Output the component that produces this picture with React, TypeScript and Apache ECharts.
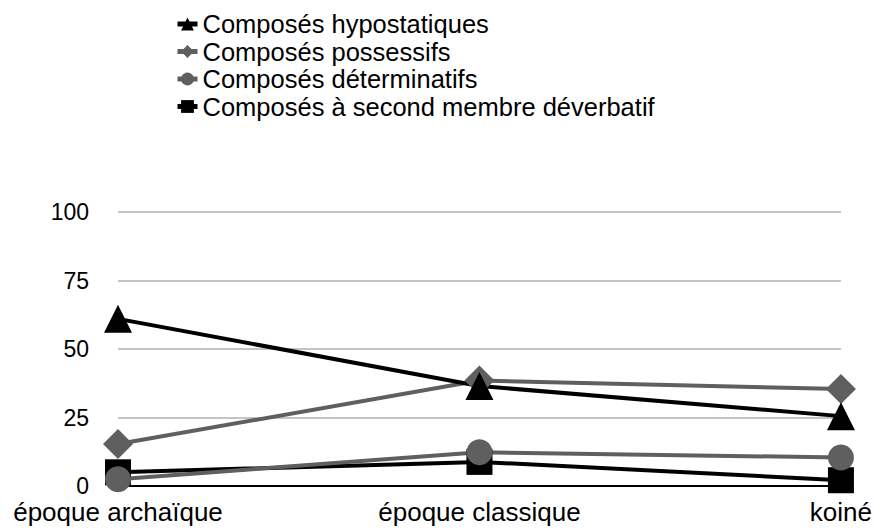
import React, { useEffect, useRef } from "react";
import * as echarts from "echarts";

const categories = ["époque archaïque", "époque classique", "koiné"];
const yTicks = [0, 25, 50, 75, 100];
const hypostatiques = [61, 36.5, 25.5];
const possessifs = [15.3, 38.5, 35.4];
const determinatifs = [2.5, 12.3, 10.4];
const deverbatifs = [5, 8.8, 2.1];

const seriesNames = [
  "Composés hypostatiques",
  "Composés possessifs",
  "Composés déterminatifs",
  "Composés à second membre déverbatif",
];

export default function App() {
  const ref = useRef<HTMLDivElement>(null);
  useEffect(() => {
    if (!ref.current) return;
    const chart = echarts.init(ref.current, null, { renderer: "svg" });
    const font = "'Liberation Sans', Arial, sans-serif";
    const mk = (name: string, data: number[], color: string, symbol: string, size: number) => ({
      name,
      type: "line",
      data,
      symbol,
      symbolSize: size,
      lineStyle: { color, width: 4 },
      itemStyle: { color },
      z: 3,
    });
    chart.setOption({
      animation: false,
      textStyle: { fontFamily: font },
      legend: {
        orient: "vertical",
        left: 170,
        top: 6,
        itemWidth: 20,
        itemHeight: 16,
        itemGap: 1.5,
        data: seriesNames,
        lineStyle: { width: 5 },
        textStyle: { fontSize: 25.5, lineHeight: 25, color: "#000", fontFamily: font },
      },
      grid: { left: 118, right: 33, top: 212, bottom: 43, containLabel: false },
      xAxis: {
        type: "category",
        data: categories,
        boundaryGap: false,
        axisLine: { lineStyle: { color: "#000", width: 2 } },
        axisTick: { show: false },
        axisLabel: { fontSize: 26, color: "#000", margin: 13, fontFamily: font },
      },
      yAxis: {
        type: "value",
        min: yTicks[0],
        max: yTicks[yTicks.length - 1],
        interval: 25,
        axisLine: { show: false },
        axisTick: { show: false },
        splitLine: { lineStyle: { color: "#c4c4c4", width: 2 } },
        axisLabel: { fontSize: 23, color: "#000", margin: 29, fontFamily: font },
      },
      series: [
        mk(seriesNames[3], deverbatifs, "#000000", "rect", 26),
        mk(seriesNames[2], determinatifs, "#5f5f5f", "circle", 26),
        mk(seriesNames[1], possessifs, "#5f5f5f", "diamond", 30),
        mk(seriesNames[0], hypostatiques, "#000000", "triangle", 28),
      ],
    });
    return () => chart.dispose();
  }, []);
  return <div ref={ref} style={{ width: 875, height: 529, position: "absolute", left: 0, top: 0 }} />;
}
